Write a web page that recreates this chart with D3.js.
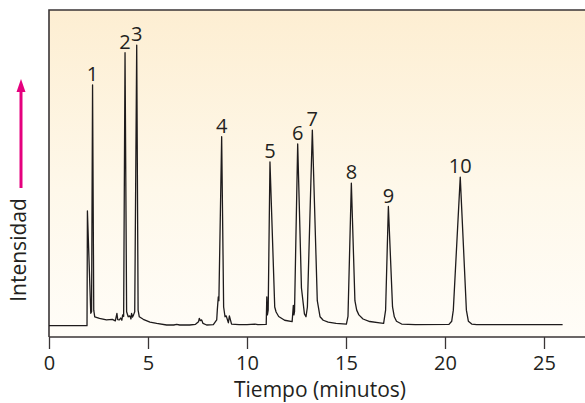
<!DOCTYPE html>
<html>
<head>
<meta charset="utf-8">
<script src="https://cdn.jsdelivr.net/npm/d3@7/dist/d3.min.js"></script>
<style>
  html, body { margin: 0; padding: 0; background: #fff; }
  svg { display: block; }
  text { font-family: "Open Sans", "Noto Sans", sans-serif; fill: #231f20; }
</style>
</head>
<body>
<svg id="chart" width="585" height="403"></svg>
<script>
// ---- data ----
const timeMin = [
  0, 1.92, 1.94, 2.11, 2.15, 2.20, 2.26, 2.31, 2.55, 2.9, 3.2, 3.35, 3.43, 3.47, 3.55, 3.62, 3.68, 3.72, 3.77,
  3.84, 3.92, 4.0, 4.08, 4.14, 4.17, 4.22, 4.27, 4.33, 4.43, 4.50, 4.56, 4.76, 5.1, 5.44, 5.94, 6.3, 6.45, 6.6,
  7.1, 7.4, 7.55, 7.59, 7.64, 7.71, 7.78, 7.96, 8.3, 8.47, 8.50, 8.55, 8.58, 8.72, 8.82, 8.89, 8.95, 9.06, 9.11,
  9.22, 9.6, 10.0, 10.4, 10.55, 10.97, 11.00, 11.03, 11.07, 11.16, 11.40, 11.47, 11.6, 11.9, 12.28, 12.34, 12.37,
  12.40, 12.56, 12.75, 12.90, 12.98, 13.05, 13.30, 13.55, 13.69, 13.85, 14.1, 14.5, 15.02, 15.1, 15.27, 15.45,
  15.54, 15.65, 15.86, 16.2, 16.7, 16.90, 17.00, 17.14, 17.35, 17.44, 17.55, 17.81, 18.5, 20.2, 20.34, 20.42,
  20.77, 21.08, 21.18, 21.35, 21.6, 25.94
];
const intensity = [
  0.1, 0.1, 36.4, 4.0, 4.5, 76.3, 5.0, 2.9, 2.4, 1.9, 2.1, 1.6, 4.0, 2.0, 1.9, 2.5, 1.8, 3.5, 3.0,
  86.5, 4.5, 2.9, 3.2, 2.2, 4.0, 2.8, 3.5, 4.5, 88.9, 5.0, 2.9, 2.1, 1.2, 0.8, 0.3, 0.3, 0.5, 0.3,
  0.3, 0.5, 1.3, 2.4, 1.7, 1.9, 0.8, 0.3, 0.4, 1.9, 5.0, 9.2, 8.0, 59.9, 6.0, 2.9, 3.2, 1.0, 3.2,
  0.6, 0.4, 0.4, 0.6, 0.4, 0.5, 9.2, 3.5, 5.0, 51.9, 6.0, 4.4, 3.0, 1.8, 1.4, 6.5, 3.5,
  4.5, 57.6, 12.0, 3.8, 2.9, 6.0, 62.0, 8.0, 2.9, 1.8, 1.2, 0.8, 0.6, 3.0, 45.2, 8.0,
  5.0, 3.5, 2.2, 1.4, 1.0, 0.8, 5.0, 37.8, 6.0, 2.9, 1.5, 0.6, 0.4, 0.5, 1.5, 5.0,
  47.1, 5.0, 1.5, 0.6, 0.4, 0.4
];
const peakLabels = ["1", "2", "3", "4", "5", "6", "7", "8", "9", "10"];
const peakTimes = [2.20, 3.84, 4.43, 8.72, 11.16, 12.56, 13.30, 15.27, 17.14, 20.77];
const peakHeights = [76.3, 86.5, 88.9, 59.9, 51.9, 57.6, 62.0, 45.2, 37.8, 47.1];
const xTicks = [0, 5, 10, 15, 20, 25];
const xTitle = "Tiempo (minutos)";
const yTitle = "Intensidad";

// ---- layout ----
const svg = d3.select("#chart");
const W = 585, H = 403;
const plotLeft = 49, plotTop = 10, axisY = 337;

const x = d3.scaleLinear().domain([0, 25]).range([49, 544]);
const y = d3.scaleLinear().domain([-3.5, 100]).range([axisY, plotTop]);

// background gradient
const defs = svg.append("defs");
const grad = defs.append("linearGradient").attr("id", "bg")
  .attr("x1", 0).attr("y1", 0).attr("x2", 0).attr("y2", 1);
grad.append("stop").attr("offset", "0%").attr("stop-color", "#fdeed2");
grad.append("stop").attr("offset", "55%").attr("stop-color", "#fef8ea");
grad.append("stop").attr("offset", "100%").attr("stop-color", "#fffdf8");

svg.append("rect")
  .attr("x", plotLeft).attr("y", plotTop)
  .attr("width", W - plotLeft).attr("height", axisY - plotTop)
  .attr("fill", "url(#bg)");

// frame: top and left
svg.append("path")
  .attr("d", `M${W},${plotTop}H${plotLeft}V${axisY}`)
  .attr("fill", "none").attr("stroke", "#3a3536").attr("stroke-width", 1.6);

// x axis
const xAxis = d3.axisBottom(x).tickValues(xTicks).tickSize(12).tickPadding(7)
  .tickFormat(d3.format("d"));
const gx = svg.append("g").attr("transform", `translate(0,${axisY})`).call(xAxis);
gx.select(".domain").remove();
gx.selectAll(".tick line").attr("stroke", "#3a3536").attr("stroke-width", 1.3);
gx.selectAll(".tick text").attr("font-size", 20).attr("fill", "#231f20")
  .style("font-family", '"Open Sans", "Noto Sans", sans-serif');
svg.append("line")
  .attr("x1", plotLeft).attr("x2", W).attr("y1", axisY).attr("y2", axisY)
  .attr("stroke", "#3a3536").attr("stroke-width", 1.6);

// trace
const trace = timeMin.map((t, i) => [t, intensity[i]]);
svg.append("path")
  .datum(trace)
  .attr("d", d3.line().x(d => x(d[0])).y(d => y(d[1])))
  .attr("fill", "none").attr("stroke", "#1e1b1c").attr("stroke-width", 1.3)
  .attr("stroke-linejoin", "round");

// peak labels
svg.append("g").selectAll("text")
  .data(peakLabels)
  .join("text")
  .attr("x", (d, i) => x(peakTimes[i]))
  .attr("y", (d, i) => y(peakHeights[i]) - 4)
  .attr("text-anchor", "middle")
  .attr("font-size", 20)
  .text(d => d);

// axis titles
svg.append("text")
  .attr("x", 320).attr("y", 397)
  .attr("text-anchor", "middle").attr("font-size", 21)
  .text(xTitle);

svg.append("text")
  .attr("transform", "translate(26,250) rotate(-90)")
  .attr("text-anchor", "middle").attr("font-size", 21)
  .text(yTitle);

// magenta arrow
svg.append("line")
  .attr("x1", 21).attr("x2", 21).attr("y1", 188).attr("y2", 90)
  .attr("stroke", "#e5007e").attr("stroke-width", 3);
svg.append("path")
  .attr("d", "M21,79L16.5,92L25.5,92Z")
  .attr("fill", "#e5007e");
</script>
</body>
</html>
